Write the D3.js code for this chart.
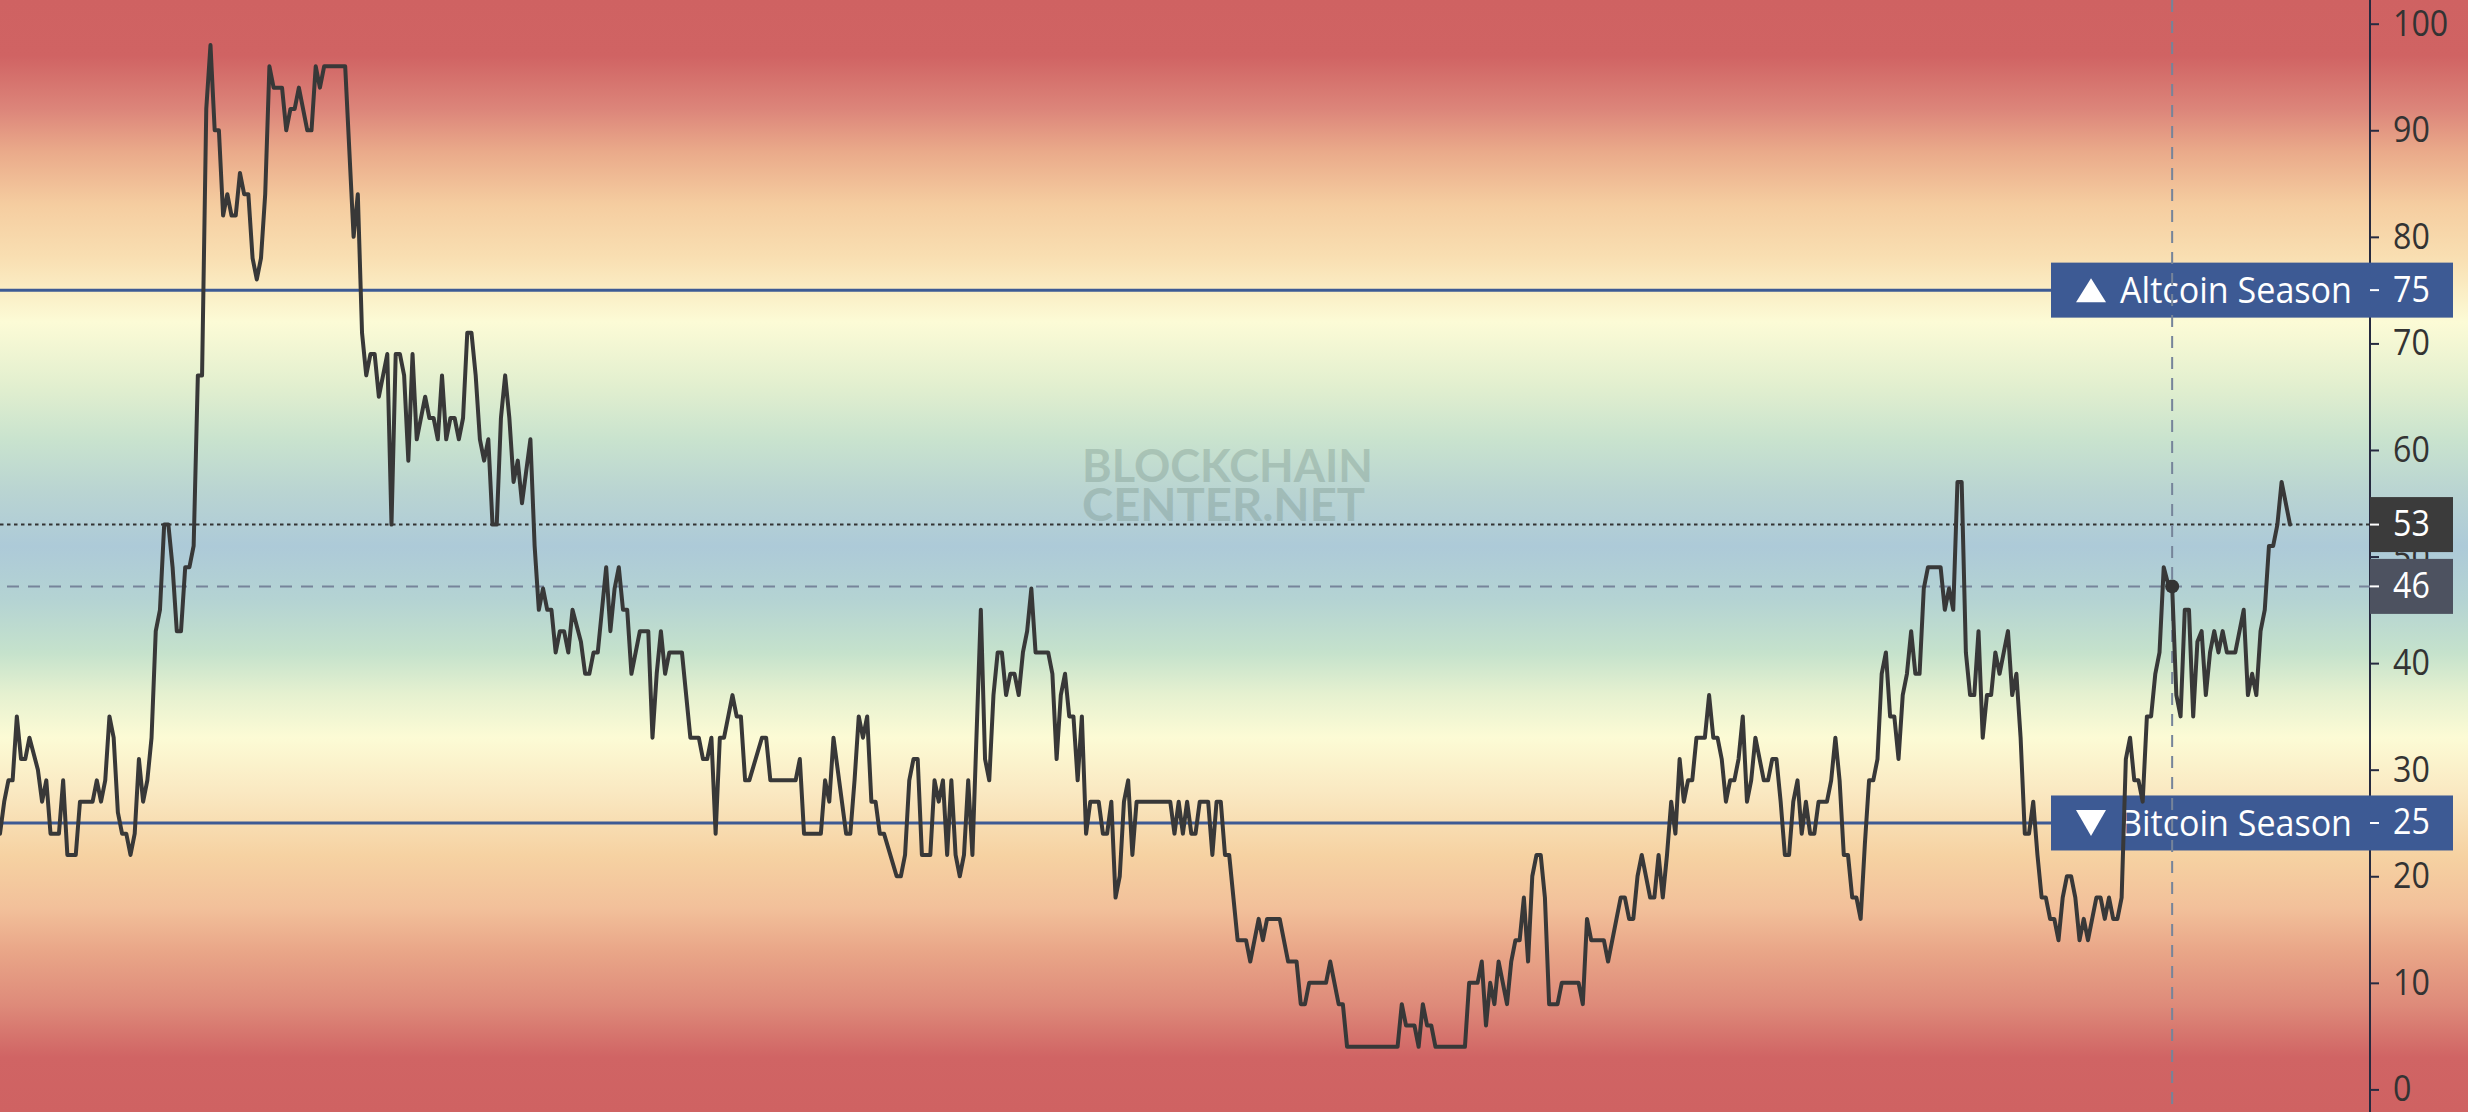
<!DOCTYPE html>
<html><head><meta charset="utf-8">
<script src="https://cdn.jsdelivr.net/npm/d3@7"></script>
<style>html,body{margin:0;padding:0;background:#fff;overflow:hidden}</style>
</head><body><svg id="c"></svg>
<script>
// ---- data (day index since start, Altcoin Season Index value) ----
const days = [0,1,2,3,4,5,6,7,9,10,11,12,14,15,16,18,19,22,23,24,25,26,27,28,29,30,31,32,33,34,35,36,37,38,39,40,41,42,43,44,45,46,47,48,49,50,51,52,53,54,55,56,57,58,59,60,61,62,63,64,65,67,68,69,70,71,73,74,75,76,77,82,84,85,86,87,88,89,90,92,93,94,95,96,97,98,99,
101,102,103,104,105,106,107,108,109,110,111,112,113,114,115,116,117,118,119,120,121,122,123,124,125,126,127,128,129,130,131,132,133,134,135,136,138,139,140,141,142,143,144,145,146,147,148,149,150,152,154,155,156,157,158,159,162,164,166,167,168,169,170,171,172,174,175,176,177,178,181,182,183,189,190,191,195,196,197,198,
201,202,203,204,205,206,207,208,209,210,213,214,215,216,217,218,219,221,222,223,224,225,226,227,228,229,230,231,233,234,235,236,237,238,239,240,241,242,243,244,245,246,249,250,251,252,253,254,255,256,257,258,259,261,262,263,264,265,266,267,268,269,270,278,279,280,281,282,283,284,285,287,288,289,290,291,292,294,296,297,299,
300,301,304,306,308,309,310,311,315,316,318,319,320,332,333,334,336,337,338,339,340,341,348,349,351,352,353,354,355,356,358,359,360,361,362,363,364,365,366,367,368,370,371,375,376,377,378,381,382,384,385,386,387,388,389,390,392,393,394,395,396,397,398,399,
400,401,402,403,405,406,407,408,409,410,411,412,413,414,415,416,417,419,420,421,422,423,424,425,426,427,428,429,430,431,432,434,435,436,437,438,439,440,441,442,443,444,445,446,447,448,449,450,451,452,453,454,455,456,457,458,461,462,463,464,465,466,467,468,469,470,471,472,473,474,475,476,477,478,479,480,481,482,483,484,485,486,487,488,489,490,491,492,493,494,495,496,498,499,
500,501,502,503,504,505,506,507,508,509,510,511,512,513,514,515,516,517,518,519,520,521,522,523,524,525,526,527,528,529,531,533,534,535,536,537,538,539,540,541,542,544];
const altIndex = [24,27,29,29,35,31,31,33,30,27,29,24,24,29,22,22,27,27,29,27,29,35,33,26,24,24,22,24,31,27,29,33,43,45,53,53,49,43,43,49,49,51,67,67,92,98,90,90,82,84,82,82,86,84,84,78,76,78,84,96,94,94,90,92,92,94,90,90,96,94,96,96,80,84,71,67,69,69,65,69,53,69,69,67,59,69,61,
65,63,63,61,67,61,63,63,61,63,71,71,67,61,59,61,53,53,63,67,63,57,59,55,58,61,51,45,47,45,45,41,43,43,41,45,42,39,39,41,41,45,49,43,47,49,45,45,39,43,43,33,39,43,39,41,41,33,33,31,31,33,24,33,33,37,35,35,29,29,33,33,29,29,31,24,24,29,27,33,
24,24,29,35,33,35,27,27,24,24,20,20,22,29,31,31,22,22,29,27,29,22,29,22,20,22,29,22,45,31,29,37,41,41,37,39,39,37,41,43,47,41,41,39,31,37,39,35,35,29,35,24,27,27,24,24,27,18,20,27,29,22,27,27,24,27,24,27,24,24,27,27,22,27,27,22,22,14,14,12,16,
14,16,16,12,12,8,8,10,10,12,8,8,4,4,8,6,6,4,8,6,6,4,4,10,10,12,6,10,8,12,8,12,14,14,18,12,20,22,22,18,8,8,10,10,8,16,14,14,12,16,18,18,16,16,20,22,18,18,22,18,22,27,24,31,
27,29,29,33,33,37,33,33,31,27,29,29,31,35,27,29,33,29,29,31,31,27,22,22,27,29,24,27,24,24,27,27,29,33,29,22,22,18,18,16,23,29,29,31,39,41,35,35,31,37,39,43,39,39,47,49,49,45,47,45,57,57,41,37,37,43,33,37,37,41,39,41,43,37,39,33,24,24,27,22,18,18,16,16,14,18,20,20,18,14,16,14,18,18,
16,18,16,16,18,31,33,29,29,27,35,35,39,41,49,47.5,47.2,37,35,45,45,35,42,43,37,41,43,41,43,41,41,45,37,39,37,43,45,51,51,53,57,53];
const dayDomain = [0, 563];
const yTicks = [0,10,20,30,40,50,60,70,80,90,100];
const levelValues = [75, 25];
const levelNames = ["Altcoin Season", "Bitcoin Season"];
const levelDirs = ["up", "down"];
const crosshairDay = 516;
const crosshairValue = 47.2;
const crosshairLabel = "46";
const watermarkLines = ["BLOCKCHAIN", "CENTER.NET"];
// background colour band stops: [index value, colour]
const bgValues = [103, 97, 92, 88, 83, 78, 72, 66, 61, 56, 51, 46, 41, 37, 33, 28, 22, 17, 13, 8, 3, -3];
const bgColors = ["#CF6262","#D06363","#DC857A","#EAAA8A","#F5CDA0","#F9DFB2","#FCFBD6","#E2EFCF","#C9E3CE","#B9D4D2","#ADCAD8","#B4D3D3","#C5E2CC","#E6F1D0","#FCFBD5","#FAE9C2","#F6D2A2","#F2C09A","#E9A688","#DE8B7A","#D06464","#CF6262"];

// ---- layout ----
const W = 2468, H = 1112, axisX = 2370;
const svg = d3.select("#c").attr("width", W).attr("height", H);
const x = d3.scaleLinear().domain(dayDomain).range([0, axisX]);
const y = d3.scaleLinear().domain([0, 100]).range([1089.4, 23.7]);
const series = days.map((d, i) => ({day: d, v: altIndex[i]}));
const lastValue = altIndex[altIndex.length - 1];
const FONT = "'Open Sans', 'Noto Sans', sans-serif";

// background gradient
const defs = svg.append("defs");
const grad = defs.append("linearGradient").attr("id", "bg")
  .attr("gradientUnits", "userSpaceOnUse").attr("x1", 0).attr("x2", 0).attr("y1", 0).attr("y2", H);
bgValues.forEach((v, i) => {
  grad.append("stop").attr("offset", Math.max(0, Math.min(1, y(v) / H))).attr("stop-color", bgColors[i]);
});
svg.append("rect").attr("width", W).attr("height", H).attr("fill", "url(#bg)");

// watermark
const wm = svg.append("g").attr("fill", "#6f8a80").attr("opacity", 0.32)
  .attr("font-family", "Lato, 'Open Sans', sans-serif").attr("font-weight", 700).attr("font-size", 46);
wm.selectAll("text").data(watermarkLines).join("text")
  .attr("x", 1082).attr("y", (d, i) => 482 + i * 39)
  .attr("textLength", (d, i) => i === 0 ? 291 : 283).attr("lengthAdjust", "spacingAndGlyphs")
  .text(d => d);

// number text helper: fixed width like the narrow reference face
function numText(sel) {
  sel.attr("font-family", FONT).attr("font-size", 36)
    .attr("textLength", function() { return this.textContent.length * 18.4; })
    .attr("lengthAdjust", "spacingAndGlyphs");
}

// right axis
svg.append("line").attr("x1", axisX).attr("x2", axisX).attr("y1", 0).attr("y2", H)
  .attr("stroke", "#262a40").attr("stroke-width", 2);
const axis = d3.axisRight(y).tickValues(yTicks).tickSize(9).tickPadding(14).tickSizeOuter(0);
const ag = svg.append("g").attr("transform", `translate(${axisX},0)`).call(axis);
ag.select(".domain").remove();
ag.selectAll(".tick line").attr("stroke", "#262a40").attr("stroke-width", 2);
ag.selectAll(".tick text").attr("fill", "#333").call(numText);

// level lines + boxes
const lv = svg.append("g");
levelValues.forEach((v, i) => {
  const cy = y(v);
  lv.append("line").attr("x1", 0).attr("x2", 2051).attr("y1", cy).attr("y2", cy)
    .attr("stroke", "#3D5A94").attr("stroke-width", 3);
  lv.append("rect").attr("x", 2051).attr("y", cy - 27.5).attr("width", 402).attr("height", 55).attr("fill", "#3D5A94");
  const p = d3.path();
  const cx = 2091;
  if (levelDirs[i] === "up") { p.moveTo(cx - 15, cy + 12); p.lineTo(cx + 15, cy + 12); p.lineTo(cx, cy - 12); }
  else { p.moveTo(cx - 15, cy - 13); p.lineTo(cx + 15, cy - 13); p.lineTo(cx, cy + 13); }
  p.closePath();
  lv.append("path").attr("d", p.toString()).attr("fill", "#fff");
  lv.append("text").attr("x", 2120).attr("y", cy).attr("dy", "0.36em").attr("fill", "#fff")
    .attr("font-family", FONT).attr("font-size", 36).attr("textLength", 232).attr("lengthAdjust", "spacingAndGlyphs")
    .text(levelNames[i]);
  lv.append("line").attr("x1", axisX).attr("x2", axisX + 9).attr("y1", cy).attr("y2", cy)
    .attr("stroke", "#fff").attr("stroke-width", 2);
  lv.append("text").attr("x", axisX + 23).attr("y", cy).attr("dy", "0.32em").attr("fill", "#fff")
    .text(v).call(numText);
});

// last value dotted line
svg.append("line").attr("x1", 0).attr("x2", axisX).attr("y1", y(lastValue)).attr("y2", y(lastValue))
  .attr("stroke", "#333").attr("stroke-width", 2).attr("stroke-dasharray", "3.5,3.5");

// crosshair
const cg = svg.append("g").attr("stroke", "#76849A").attr("stroke-width", 2).attr("stroke-dasharray", "12,9");
cg.append("line").attr("x1", x(crosshairDay)).attr("x2", x(crosshairDay)).attr("y1", 0).attr("y2", H);
cg.append("line").attr("x1", 7).attr("x2", axisX).attr("y1", y(crosshairValue)).attr("y2", y(crosshairValue));

// series
svg.append("path").datum(series)
  .attr("d", d3.line().x(d => x(d.day)).y(d => y(d.v)))
  .attr("fill", "none").attr("stroke", "#383838").attr("stroke-width", 4)
  .attr("stroke-linejoin", "round").attr("stroke-linecap", "round");

svg.append("circle").attr("cx", x(crosshairDay)).attr("cy", y(crosshairValue)).attr("r", 7).attr("fill", "#333");

// price labels
function priceBox(v, label, color) {
  const cy = y(v);
  svg.append("rect").attr("x", axisX).attr("y", cy - 27.5).attr("width", 83).attr("height", 55).attr("fill", color);
  svg.append("line").attr("x1", axisX).attr("x2", axisX + 9).attr("y1", cy).attr("y2", cy)
    .attr("stroke", "#fff").attr("stroke-width", 2);
  svg.append("text").attr("x", axisX + 23).attr("y", cy).attr("dy", "0.32em").attr("fill", "#fff")
    .text(label).call(numText);
}
priceBox(lastValue, String(lastValue), "#3B3B3B");
priceBox(crosshairValue, crosshairLabel, "#4D5260");
</script>
</body></html>
